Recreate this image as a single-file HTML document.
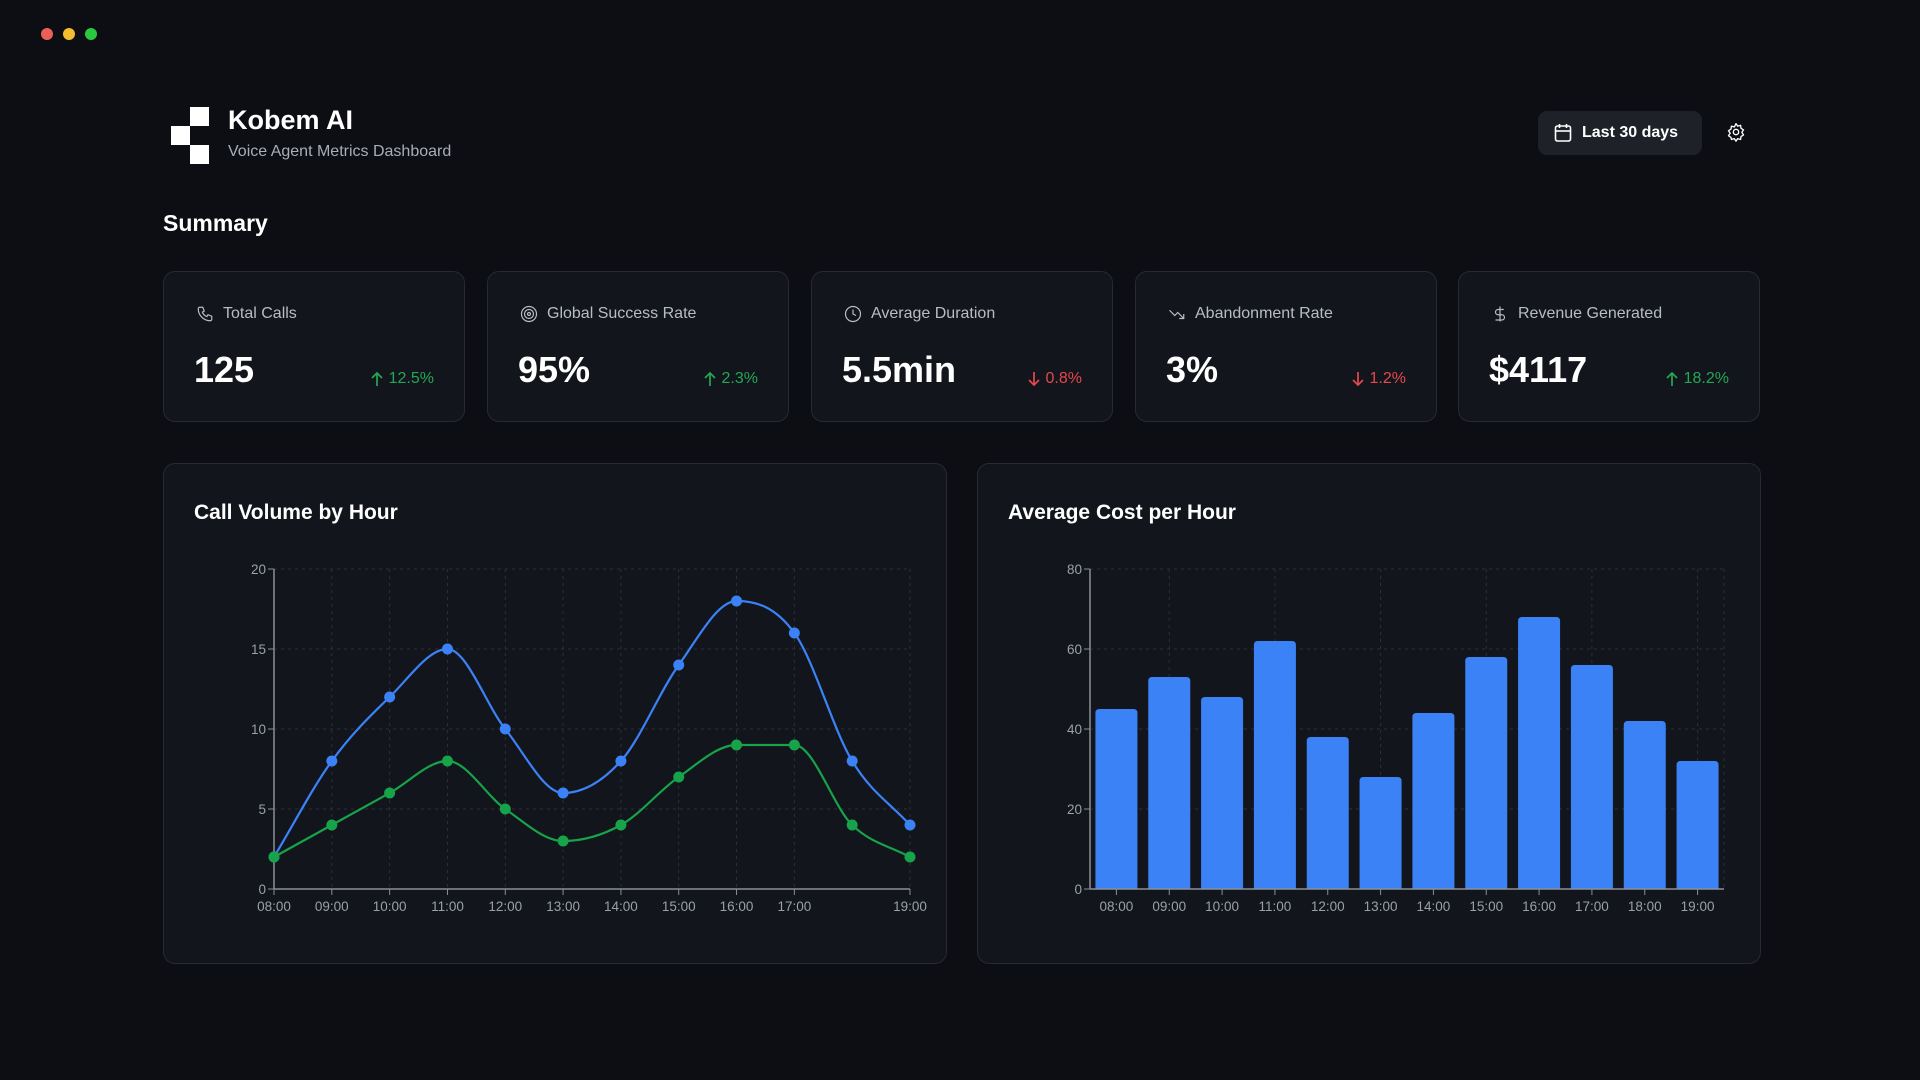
<!DOCTYPE html>
<html><head><meta charset="utf-8"><style>
*{box-sizing:border-box;margin:0;padding:0}
body{width:1920px;height:1080px;background:#0c0e13;font-family:"Liberation Sans",sans-serif;color:#fff;position:relative;overflow:hidden}
.dot{position:absolute;top:28px;width:12px;height:12px;border-radius:50%}
.abs{position:absolute}
.card{position:absolute;top:271px;width:302px;height:151px;background:#12151b;border:1px solid #262a32;border-radius:12px}
.card .lbl{position:absolute;left:32px;top:33px;font-size:16px;color:#b8bcc4;display:flex;align-items:center;gap:9px}
.card .v{position:absolute;left:30px;top:77px;font-size:36px;font-weight:bold}
.card .ch{position:absolute;right:30px;top:98px;font-size:16px;display:flex;align-items:center;gap:5px}
.up{color:#22a855}.down{color:#e5484d}
.panel{position:absolute;top:463px;width:784px;height:501px;background:#12151b;border:1px solid #262a32;border-radius:12px}
.panel h2{position:absolute;left:30px;top:37px;font-size:21px;font-weight:bold}
svg text{font-family:"Liberation Sans",sans-serif}
</style></head><body>
<div class="dot" style="left:41px;background:#ec5f57"></div>
<div class="dot" style="left:63px;background:#f4bd30"></div>
<div class="dot" style="left:85px;background:#2ac840"></div>

<div>
<div class="abs" style="left:190px;top:107px;width:19px;height:19px;background:#fff"></div>
<div class="abs" style="left:171px;top:126px;width:19px;height:19px;background:#fff"></div>
<div class="abs" style="left:190px;top:145px;width:19px;height:19px;background:#fff"></div>
</div>
<div class="abs" style="left:228px;top:105px;font-size:27px;font-weight:bold">Kobem AI</div>
<div class="abs" style="left:228px;top:143px;font-size:16px;color:#a8adb6">Voice Agent Metrics Dashboard</div>

<div class="abs" style="left:1538px;top:111px;width:164px;height:44px;background:#1e2128;border-radius:9px;display:flex;align-items:center;padding-left:16px;gap:10px;font-size:16px;font-weight:bold">
<svg width="18" height="20" viewBox="0 0 18 20"><rect x="1.5" y="3" width="15" height="15" rx="2" fill="none" stroke="#fff" stroke-width="1.6"/><line x1="1.5" y1="8" x2="16.5" y2="8" stroke="#fff" stroke-width="1.6"/><line x1="5.5" y1="1" x2="5.5" y2="5" stroke="#fff" stroke-width="1.6"/><line x1="12.5" y1="1" x2="12.5" y2="5" stroke="#fff" stroke-width="1.6"/></svg>
<span>Last 30 days</span></div>
<svg class="abs" style="left:1726px;top:122px" width="20" height="20" viewBox="0 0 24 24"><path d="M12 2l2 3 3.5-1 .5 3.5 3 2-2 3 2 3-3 2-.5 3.5-3.5-1-2 3-2-3-3.5 1L6 18.5l-3-2 2-3-2-3 3-2L6.5 5 10 6z" fill="none" stroke="#fff" stroke-width="1.6" stroke-linejoin="round"/><circle cx="12" cy="12" r="3.2" fill="none" stroke="#fff" stroke-width="1.6"/></svg>

<div class="abs" style="left:163px;top:210px;font-size:23px;font-weight:bold">Summary</div>

<div class="card" style="left:163px">
<div class="lbl"><svg width="18" height="18" viewBox="0 0 24 24"><path d="M5 3h4l2 5-2.5 1.5a11 11 0 0 0 6 6L16 13l5 2v4a2 2 0 0 1-2 2A16 16 0 0 1 3 5a2 2 0 0 1 2-2z" fill="none" stroke="#b8bcc4" stroke-width="1.6"/></svg>Total Calls</div>
<div class="v">125</div><div class="ch up"><svg width="14" height="16" viewBox="0 0 14 16"><path d="M7 15V2M2 7l5-5 5 5" fill="none" stroke="#22a855" stroke-width="1.7"/></svg>12.5%</div></div>
<div class="card" style="left:487px">
<div class="lbl"><svg width="18" height="18" viewBox="0 0 24 24"><circle cx="12" cy="12" r="10" fill="none" stroke="#b8bcc4" stroke-width="1.6"/><circle cx="12" cy="12" r="6" fill="none" stroke="#b8bcc4" stroke-width="1.6"/><circle cx="12" cy="12" r="2" fill="none" stroke="#b8bcc4" stroke-width="1.6"/></svg>Global Success Rate</div>
<div class="v">95%</div><div class="ch up"><svg width="14" height="16" viewBox="0 0 14 16"><path d="M7 15V2M2 7l5-5 5 5" fill="none" stroke="#22a855" stroke-width="1.7"/></svg>2.3%</div></div>
<div class="card" style="left:811px">
<div class="lbl"><svg width="18" height="18" viewBox="0 0 24 24"><circle cx="12" cy="12" r="10" fill="none" stroke="#b8bcc4" stroke-width="1.6"/><path d="M12 6v6l4 2" fill="none" stroke="#b8bcc4" stroke-width="1.6"/></svg>Average Duration</div>
<div class="v">5.5min</div><div class="ch down"><svg width="14" height="16" viewBox="0 0 14 16"><path d="M7 1v13M2 9l5 5 5-5" fill="none" stroke="#e5484d" stroke-width="1.7"/></svg>0.8%</div></div>
<div class="card" style="left:1135px">
<div class="lbl"><svg width="18" height="18" viewBox="0 0 24 24"><path d="M2 7l7 7 4-4 8 8M21 12v6h-6" fill="none" stroke="#b8bcc4" stroke-width="1.6"/></svg>Abandonment Rate</div>
<div class="v">3%</div><div class="ch down"><svg width="14" height="16" viewBox="0 0 14 16"><path d="M7 1v13M2 9l5 5 5-5" fill="none" stroke="#e5484d" stroke-width="1.7"/></svg>1.2%</div></div>
<div class="card" style="left:1458px">
<div class="lbl"><svg width="18" height="18" viewBox="0 0 24 24"><path d="M12 2v20M17 6H9.5a3.5 3.5 0 0 0 0 7h5a3.5 3.5 0 0 1 0 7H6" fill="none" stroke="#b8bcc4" stroke-width="1.6"/></svg>Revenue Generated</div>
<div class="v">$4117</div><div class="ch up"><svg width="14" height="16" viewBox="0 0 14 16"><path d="M7 15V2M2 7l5-5 5 5" fill="none" stroke="#22a855" stroke-width="1.7"/></svg>18.2%</div></div>

<div class="panel" style="left:163px">
<h2>Call Volume by Hour</h2></div>
<div class="panel" style="left:977px">
<h2>Average Cost per Hour</h2></div>

<svg id="charts" class="abs" style="left:0;top:0" width="1920" height="1080"></svg>

<script>
const lineCategories=["08:00","09:00","10:00","11:00","12:00","13:00","14:00","15:00","16:00","17:00","18:00","19:00"];
const lineLabelsShown=["08:00","09:00","10:00","11:00","12:00","13:00","14:00","15:00","16:00","17:00","19:00"];
const totalCalls=[2,8,12,15,10,6,8,14,18,16,8,4];
const successfulCalls=[2,4,6,8,5,3,4,7,9,9,4,2];
const lineTicks=[0,5,10,15,20];
const barCategories=["08:00","09:00","10:00","11:00","12:00","13:00","14:00","15:00","16:00","17:00","18:00","19:00"];
const avgCost=[45,53,48,62,38,28,44,58,68,56,42,32];
const barTicks=[0,20,40,60,80];

const NS="http://www.w3.org/2000/svg";
const svg=document.getElementById('charts');
function mk(t,a,p){const e=document.createElementNS(NS,t);for(const k in a)e.setAttribute(k,a[k]);(p||svg).appendChild(e);return e;}
const AX="#8a8f98",GRID="#2c3038",TXT="#9aa0aa";

// line chart
const L={x0:274,x1:910,y0:889,y1:569,max:20};
const lx=i=>L.x0+i*(L.x1-L.x0)/(lineCategories.length-1);
const ly=v=>L.y0-v/L.max*(L.y0-L.y1);
const lg=mk('g',{});


lineTicks.forEach(t=>{
  if(t>0){const g=mk('line',{x1:L.x0,x2:L.x1,y1:ly(t),y2:ly(t),stroke:GRID,'stroke-dasharray':'3 4'},lg);}
  mk('line',{x1:L.x0-6,x2:L.x0,y1:ly(t),y2:ly(t),stroke:AX},lg);
  const tx=mk('text',{x:L.x0-8,y:ly(t)+5,'text-anchor':'end','font-size':13.5,fill:TXT},lg);tx.textContent=t;
  
});
lineCategories.forEach((c,i)=>{
  if(lineLabelsShown.indexOf(c)<0)return;
  if(i>0){const g=mk('line',{x1:lx(i),x2:lx(i),y1:L.y1,y2:L.y0,stroke:GRID,'stroke-dasharray':'3 4'},lg);}
  mk('line',{x1:lx(i),x2:lx(i),y1:L.y0,y2:L.y0+6,stroke:AX},lg);
  const tx=mk('text',{x:lx(i),y:L.y0+22,'text-anchor':'middle','font-size':13.5,fill:TXT},lg);tx.textContent=c;
  
});
mk('line',{x1:L.x0,x2:L.x0,y1:L.y1,y2:L.y0,stroke:AX,'stroke-width':1.5},lg);
mk('line',{x1:L.x0,x2:L.x1,y1:L.y0,y2:L.y0,stroke:AX,'stroke-width':1.5},lg);
function monotone(pts){
  const n=pts.length,d=[],m=[];
  for(let i=0;i<n-1;i++)d.push((pts[i+1][1]-pts[i][1])/(pts[i+1][0]-pts[i][0]));
  m[0]=d[0];m[n-1]=d[n-2];
  for(let i=1;i<n-1;i++){const a=d[i-1],b=d[i];if(a*b<=0)m[i]=0;else{m[i]=(a+b)/2;const s=Math.min(Math.abs(a),Math.abs(b))*3;if(Math.abs(m[i])>s)m[i]=Math.sign(m[i])*s;}}
  let p=`M${pts[0][0]},${pts[0][1]}`;
  for(let i=0;i<n-1;i++){const h=(pts[i+1][0]-pts[i][0])/3;p+=` C${pts[i][0]+h},${pts[i][1]+m[i]*h} ${pts[i+1][0]-h},${pts[i+1][1]-m[i+1]*h} ${pts[i+1][0]},${pts[i+1][1]}`;}
  return p;
}
[[totalCalls,'#3b82f6','total-calls'],[successfulCalls,'#16a34a','successful-calls']].forEach(([arr,col,nm])=>{
  const pts=arr.map((v,i)=>[lx(i),ly(v)]);
  const pa=mk('path',{d:monotone(pts),fill:'none',stroke:col,'stroke-width':2.2},lg);
  
  pts.forEach(p=>{const c=mk('circle',{cx:p[0],cy:p[1],r:5.5,fill:col},lg);
    });
});

// bar chart
const B={x0:1090,x1:1724,y0:889,y1:569,max:80};
const bw=(B.x1-B.x0)/barCategories.length;
const bx=i=>B.x0+bw*(i+0.5);
const by=v=>B.y0-v/B.max*(B.y0-B.y1);
const bg=mk('g',{});


barTicks.forEach(t=>{
  if(t>0){const g=mk('line',{x1:B.x0,x2:B.x1,y1:by(t),y2:by(t),stroke:GRID,'stroke-dasharray':'3 4'},bg);}
  mk('line',{x1:B.x0-6,x2:B.x0,y1:by(t),y2:by(t),stroke:AX},bg);
  const tx=mk('text',{x:B.x0-8,y:by(t)+5,'text-anchor':'end','font-size':13.5,fill:TXT},bg);tx.textContent=t;
  
});
barCategories.forEach((c,i)=>{
  if(i%2===1){const g=mk('line',{x1:bx(i),x2:bx(i),y1:B.y1,y2:B.y0,stroke:GRID,'stroke-dasharray':'3 4'},bg);}
});
mk('line',{x1:B.x1,x2:B.x1,y1:B.y1,y2:B.y0,stroke:GRID,'stroke-dasharray':'3 4'},bg);
avgCost.forEach((v,i)=>{
  const w=42,x=bx(i)-w/2,y=by(v),r=4;
  const p=mk('path',{d:`M${x},${B.y0} V${y+r} Q${x},${y} ${x+r},${y} H${x+w-r} Q${x+w},${y} ${x+w},${y+r} V${B.y0} Z`,fill:'#3b82f6'},bg);
  
});
barCategories.forEach((c,i)=>{
  mk('line',{x1:bx(i),x2:bx(i),y1:B.y0,y2:B.y0+6,stroke:AX},bg);
  const tx=mk('text',{x:bx(i),y:B.y0+22,'text-anchor':'middle','font-size':13.5,fill:TXT},bg);tx.textContent=c;
  
});
mk('line',{x1:B.x0,x2:B.x0,y1:B.y1,y2:B.y0,stroke:AX,'stroke-width':1.5},bg);
mk('line',{x1:B.x0,x2:B.x1,y1:B.y0,y2:B.y0,stroke:AX,'stroke-width':1.5},bg);
</script>
</body></html>
